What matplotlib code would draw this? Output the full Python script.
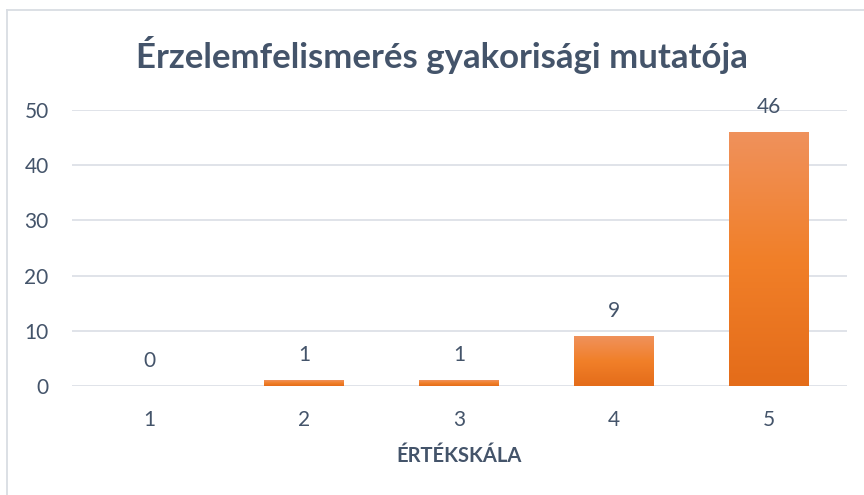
import matplotlib
matplotlib.use("Agg")
import matplotlib.pyplot as plt
import numpy as np
from matplotlib.colors import LinearSegmentedColormap
from matplotlib.lines import Line2D

categories = ["1", "2", "3", "4", "5"]
values = [0, 1, 1, 9, 46]
yticks = [0, 10, 20, 30, 40, 50]
title = "Érzelemfelismerés gyakorisági mutatója"
xlabel = "ÉRTÉKSKÁLA"

plt.rcParams['font.family'] = ['Lato', 'DejaVu Sans']
text_col = '#44546A'
grid_col = '#DDE1E7'

fig = plt.figure(figsize=(8.64, 4.95), dpi=100)
ax = fig.add_axes([71.5/864, 1-386/495, (846.5-71.5)/864, (386-110)/495])

x = np.arange(len(categories))
bars = ax.bar(x, values, width=0.51, color='none', zorder=3)
ax.set_xlim(-0.5, len(categories)-0.5)
ax.set_ylim(0, 50)

cmap = LinearSegmentedColormap.from_list('g', [(0, (0.894, 0.424, 0.10)), (0.5, (0.945, 0.50, 0.16)), (1, (0.94, 0.57, 0.36))])
grad = np.linspace(0, 1, 256).reshape(-1, 1)
for b, v in zip(bars, values):
    if v <= 0:
        continue
    x0, y0 = b.get_x(), b.get_y()
    w, h = b.get_width(), b.get_height()
    im = ax.imshow(grad, cmap=cmap, aspect='auto', origin='lower',
                   extent=[x0, x0+w, y0, y0+h], zorder=3)
    im.set_clip_path(b)

ax.set_yticks(yticks)
ax.set_xticks(x)
ax.set_xticklabels(categories)
ax.grid(axis='y', color=grid_col, linewidth=1.3, zorder=0)
for s in ax.spines.values():
    s.set_visible(False)
ax.tick_params(axis='both', length=0, labelsize=15, colors=text_col)
ax.tick_params(axis='y', pad=16.5)
ax.tick_params(axis='x', pad=17)

for xi, v in zip(x, values):
    ax.annotate(str(v), (xi, v), xytext=(0, 25), textcoords='offset pixels',
                ha='center', va='center', fontsize=15, color=text_col)

ax.set_xlabel(xlabel, fontsize=14.5, fontweight='bold', color=text_col, labelpad=12)
fig.text(441.5/864, 1-55/495, title, ha='center', va='center', fontsize=25,
         fontweight='bold', color=text_col)

# chart border
fig.add_artist(Line2D([7/864, 7/864], [0, 1-10/495], transform=fig.transFigure, color='#D9DDE3', lw=1.3))
fig.add_artist(Line2D([7/864, 1], [1-10/495, 1-10/495], transform=fig.transFigure, color='#D9DDE3', lw=1.3))

fig.savefig('out.png', dpi=100)
